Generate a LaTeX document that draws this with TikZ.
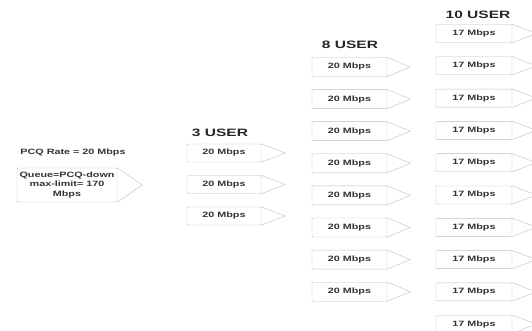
\documentclass[tikz,border=0pt]{standalone}
\usepackage{fontspec}
\setmainfont{Liberation Sans}
\usepackage{graphicx}
\newcommand{\stretchtxt}[1]{\scalebox{1.4}[1]{#1}}
\newcommand{\stretchhead}[1]{\scalebox{1.45}[1]{#1}}
\tikzset{
  ratebox/.style={draw=gray!50, fill=white, rounded corners=1pt, inner sep=0pt,
    minimum width=75pt, minimum height=18pt, text=black!80,
    font=\fontsize{7.7}{9.4}\selectfont\bfseries},
  header/.style={inner sep=0pt, text=black!85, font=\fontsize{10.7}{12}\selectfont\bfseries},
  tipline/.style={draw=gray!50}
}
\begin{document}
\begin{tikzpicture}[x=1pt, y=-1pt]
            \useasboundingbox (0,0) rectangle (532,331);
            \clip (0,0) rectangle (532,331);

            % Queue
            \node[inner sep=0pt, text=black!80, font=\fontsize{7.7}{9.4}\selectfont\bfseries] (rate) at (73,153) {\stretchtxt{PCQ Rate = 20 Mbps}};
            \node[ratebox, minimum width=100pt, minimum height=34pt] (queue) at (67,185)
                {\stretchtxt{\begin{tabular}{@{}c@{}}Queue=PCQ-down\\max-limit= 170\\Mbps\end{tabular}}};
            \draw[tipline] (queue.north east) -- ([xshift=25pt]queue.east) -- (queue.south east);

            % 3 USER
            \node[header] (head3) at (220,133) {\stretchhead{3 USER}};
            \foreach \i in {0,...,2} {
                \node[ratebox, minimum width=74pt] (user3\i) at (224,{153+31.5*\i}) {\stretchtxt{20 Mbps}};
                \draw[tipline] (user3\i.north east) -- ([xshift=24pt]user3\i.east) -- (user3\i.south east);
            }

            % 8 USER
            \node[header] (head8) at (350,45) {\stretchhead{8 USER}};
            \foreach \i in {0,...,7} {
                \node[ratebox, minimum height=19pt] (user8\i) at (349.5,{67+32.1*\i}) {\stretchtxt{20 Mbps}};
                \draw[tipline] (user8\i.north east) -- ([xshift=23pt]user8\i.east) -- (user8\i.south east);
            }

            % 10 USER
            \node[header] (head10) at (478,15) {\stretchhead{10 USER}};
            \foreach \i in {0,...,9} {
                \node[ratebox, minimum width=76pt] (user10\i) at (474,{33.5+32.3*\i}) {\stretchtxt{17 Mbps}};
                \draw[tipline] (user10\i.north east) -- ([xshift=24pt]user10\i.east) -- (user10\i.south east);
            }
\end{tikzpicture}
\end{document}
